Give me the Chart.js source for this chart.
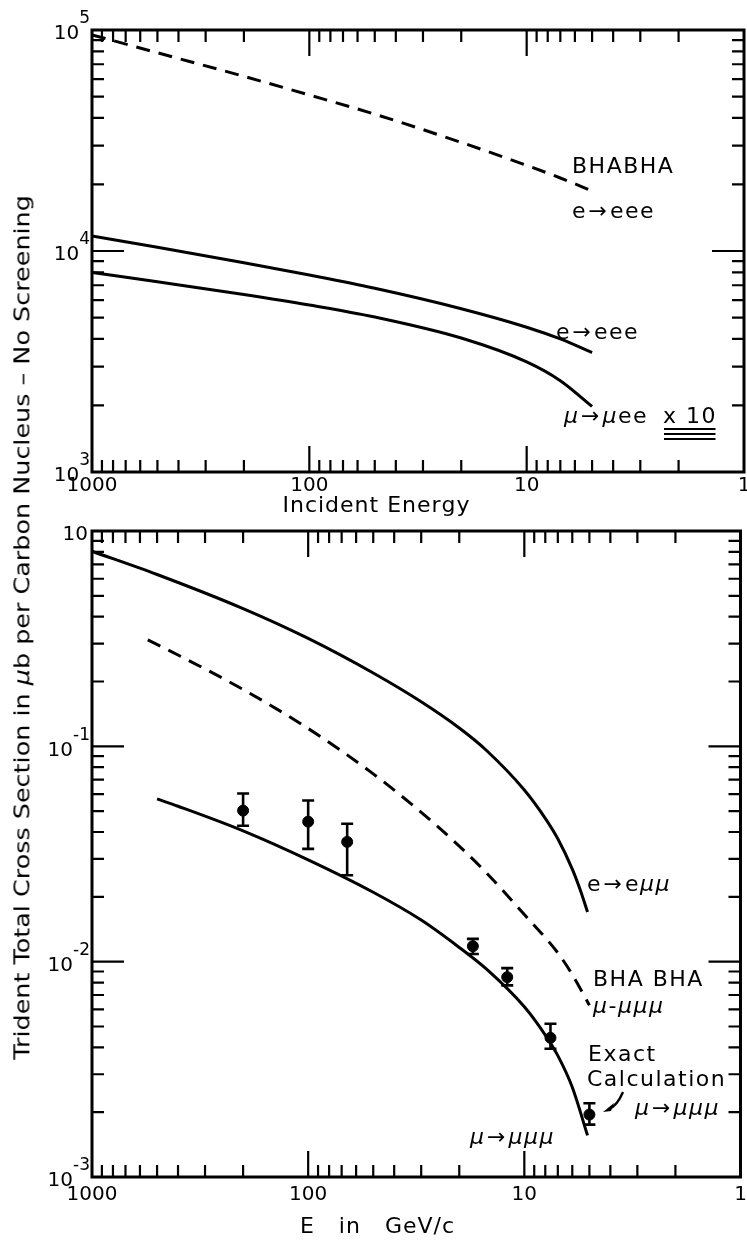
<!DOCTYPE html>
<html><head><meta charset="utf-8">
<script src="https://cdn.jsdelivr.net/npm/chart.js@4.4.1/dist/chart.umd.min.js"></script>
<style>
html,body{margin:0;padding:0;background:#fff;}
#wrap{position:relative;width:747px;height:1240px;overflow:hidden;background:#fff;}
canvas{position:absolute;left:0;}
#c1{top:0;}
#c2{top:520px;}
#ytitle{position:absolute;left:22px;top:627px;white-space:nowrap;font:22px "DejaVu Sans","Liberation Sans",sans-serif;color:#000;transform-origin:50% 50%;}
</style></head>
<body>
<div id="wrap">
<canvas id="c1" width="747" height="520"></canvas>
<canvas id="c2" width="747" height="720"></canvas>
<div id="ytitle">Trident Total Cross Section in <i>μ</i>b per Carbon Nucleus – No Screening</div>
</div>
<script>
// ---------- DATA ----------
// Top panel: Incident Energy (GeV)
const topE = [1000, 500, 200, 100, 50, 20, 10, 7, 5];
const topV_bhabha = [95100, 78900, 61700, 50800, 41600, 31000, 24400, 21400, 18700];
const topV_eeee = [11700, 10400, 8850, 7780, 6780, 5480, 4520, 4000, 3470];
const topV_muee = [8000, 7260, 6360, 5700, 5030, 4040, 3150, 2590, 1980];
// Bottom panel: E in GeV/c
const botE_emumu = [1000, 500, 200, 100, 50, 30, 20, 15, 10, 8, 7, 6, 5.5, 5.1];
const botV_emumu = [0.805, 0.628, 0.436, 0.317, 0.219, 0.161, 0.1216, 0.0959, 0.0627, 0.0463, 0.0372, 0.0269, 0.0214, 0.0170];
const botE_bhabha = [552, 400, 200, 100, 50, 30, 20, 15, 10, 7, 6, 5];
const botV_bhabha = [0.312, 0.2655, 0.1837, 0.121, 0.0745, 0.0494, 0.0344, 0.0259, 0.01656, 0.01099, 0.00871, 0.00628];
const botE_exact = [500, 400, 200, 100, 50, 30, 20, 15, 10, 8, 7, 6, 5.1];
const botV_exact = [0.0570, 0.0527, 0.0405, 0.0297, 0.0210, 0.0156, 0.01164, 0.00925, 0.00617, 0.00456, 0.00366, 0.00261, 0.00156];
const measE = [200, 100, 66, 17.3, 12.0, 7.57, 5.0];
const measV = [0.0503, 0.0447, 0.036, 0.0118, 0.00847, 0.00443, 0.00195];
const measLo = [0.0428, 0.0334, 0.0252, 0.01086, 0.00776, 0.00394, 0.00175];
const measHi = [0.0604, 0.056, 0.0437, 0.01276, 0.00933, 0.00515, 0.0022];
// Tick labels
const xTickValues = [1000, 100, 10, 1];
const xTickLabels = ['1000', '100', '10', '1'];
const topYTickValues = [1e5, 1e4, 1e3];
const topYTickBases = ['10', '10', '10'];
const topYTickExps = ['5', '4', '3'];
const botYTickValues = [1, 0.1, 0.01, 0.001];
const botYTickBases = ['10', '10', '10', '10'];
const botYTickExps = ['', '-1', '-2', '-3'];

// ---------- helpers ----------
const FONT = '"DejaVu Sans","Liberation Sans",sans-serif';
function pts(E, V) { return E.map((e, i) => ({x: e, y: V[i]})); }
function decadeTicks(lo, hi) {
  const out = [];
  for (let k = Math.round(Math.log10(lo)); k < Math.round(Math.log10(hi)); k++)
    for (let m = 1; m < 10; m++) out.push(m * Math.pow(10, k));
  out.push(hi);
  return out;
}
function isPow10(v) { const l = Math.log10(v); return Math.abs(l - Math.round(l)) < 1e-6; }
function runsOf(text) { return text.match(/μ+|[^μ]+/g); }
function charAdv(ctx, ch, spacing) {
  let w = ctx.measureText(ch).width + spacing;
  if (ch === '→') w += 3;
  return w;
}
function measureRich(ctx, text, size, spacing) {
  let w = 0;
  for (const r of runsOf(text)) {
    ctx.font = (r[0] === 'μ' ? 'oblique ' : '') + size + 'px ' + FONT;
    for (const ch of r) w += charAdv(ctx, ch, spacing);
  }
  return w - spacing;
}
function drawRich(ctx, text, x, y, size, spacing) {
  let cx = x;
  ctx.textBaseline = 'middle';
  ctx.textAlign = 'left';
  for (const r of runsOf(text)) {
    ctx.font = (r[0] === 'μ' ? 'oblique ' : '') + size + 'px ' + FONT;
    for (const ch of r) {
      ctx.fillText(ch, cx + (ch === '→' ? 1.5 : 0), y);
      cx += charAdv(ctx, ch, spacing);
    }
  }
  return cx - spacing;
}

const framePlugin = {
  id: 'framePlugin',
  afterDatasetsDraw(chart) {
    const {ctx, chartArea: a} = chart;
    const x = chart.scales.x, y = chart.scales.y;
    const o = chart.options.plugins.framePlugin;
    ctx.save();
    ctx.strokeStyle = '#000';
    ctx.fillStyle = '#000';
    // error bars
    chart.data.datasets.forEach(ds => {
      if (!ds.errLo) return;
      ctx.lineWidth = 2.6;
      ds.data.forEach((p, i) => {
        const px = x.getPixelForValue(p.x);
        const y1 = y.getPixelForValue(ds.errLo[i]);
        const y2 = y.getPixelForValue(ds.errHi[i]);
        ctx.beginPath();
        ctx.moveTo(px, y1); ctx.lineTo(px, y2);
        ctx.moveTo(px - 6, y1); ctx.lineTo(px + 6, y1);
        ctx.moveTo(px - 6, y2); ctx.lineTo(px + 6, y2);
        ctx.stroke();
      });
    });
    // frame
    ctx.lineWidth = 3;
    ctx.strokeRect(a.left, a.top, a.right - a.left, a.bottom - a.top);
    // ticks
    ctx.lineWidth = 2.2;
    ctx.beginPath();
    x.ticks.forEach(t => {
      if (t.value <= x.min || t.value >= x.max) return;
      const px = x.getPixelForValue(t.value);
      const len = isPow10(t.value) ? o.xMajor : o.xMinor;
      ctx.moveTo(px, a.top); ctx.lineTo(px, a.top + len);
      ctx.moveTo(px, a.bottom); ctx.lineTo(px, a.bottom - len);
    });
    y.ticks.forEach(t => {
      if (t.value <= y.min || t.value >= y.max) return;
      const py = y.getPixelForValue(t.value);
      const len = isPow10(t.value) ? o.yMajor : o.yMinor;
      ctx.moveTo(a.left, py); ctx.lineTo(a.left + len, py);
      ctx.moveTo(a.right, py); ctx.lineTo(a.right - len, py);
    });
    ctx.stroke();
    // x tick labels
    ctx.font = o.tickSize + 'px ' + FONT;
    ctx.textAlign = 'center';
    ctx.textBaseline = 'top';
    o.xVals.forEach((v, i) => {
      ctx.fillText(o.xLabels[i], x.getPixelForValue(v), a.bottom + o.xLabelDy);
    });
    // y tick labels: base + exponent
    o.yVals.forEach((v, i) => {
      const py = y.getPixelForValue(v);
      ctx.font = o.expSize + 'px ' + FONT;
      const ew = o.yExps[i] ? ctx.measureText(o.yExps[i]).width : 0;
      ctx.textAlign = 'right';
      ctx.textBaseline = 'middle';
      let right = a.left - 2;
      if (o.yExps[i]) {
        ctx.fillText(o.yExps[i], right, py - 11);
        right -= ew;
      } else right -= 2;
      ctx.font = o.tickSize + 'px ' + FONT;
      ctx.fillText(o.yBases[i], right, py + 4);
    });
    // axis title (letter spaced, centred)
    const tw = measureRich(ctx, o.title, o.titleSize, 1);
    drawRich(ctx, o.title, o.titleX - tw / 2, a.bottom + o.titleDy, o.titleSize, 1);
    // annotations
    o.notes.forEach(n => {
      const end = drawRich(ctx, n.t, n.x, n.y - o.offset, o.noteSize, o.spacing);
      if (n.under) {
        ctx.lineWidth = 2;
        ctx.beginPath();
        n.under.forEach(u => { ctx.moveTo(n.x + 1, u - o.offset); ctx.lineTo(end, u - o.offset); });
        ctx.stroke();
      }
    });
    if (o.arrow) {
      const [x1, y1, x2, y2] = o.arrow;
      ctx.lineWidth = 2.4;
      ctx.beginPath();
      ctx.moveTo(x1, y1 - o.offset);
      ctx.quadraticCurveTo(x1 - 6, y2 - 6 - o.offset, x2 + 6, y2 - 3 - o.offset);
      ctx.stroke();
      ctx.beginPath();
      ctx.moveTo(x2, y2 - o.offset);
      ctx.lineTo(x2 + 11, y2 - 9 - o.offset);
      ctx.lineTo(x2 + 8, y2 - 1 - o.offset);
      ctx.closePath();
      ctx.fill();
    }
    ctx.restore();
  }
};

function lineDs(E, V, dashed) {
  return {
    type: 'line', data: pts(E, V), borderColor: '#000', borderWidth: 3,
    borderDash: dashed ? [14, 9] : [], pointRadius: 0, fill: false,
    cubicInterpolationMode: 'monotone', borderCapStyle: 'butt'
  };
}

function makeChart(id, cfg) {
  const xTicks = decadeTicks(1, 1000);
  const yTicks = decadeTicks(cfg.ymin, cfg.ymax);
  return new Chart(document.getElementById(id), {
    type: 'line',
    data: {datasets: cfg.datasets},
    plugins: [framePlugin],
    options: {
      responsive: false, animation: false, devicePixelRatio: 1,
      layout: {padding: {top: cfg.padTop, right: 3, left: 0, bottom: 0}},
      plugins: {
        legend: {display: false}, tooltip: {enabled: false},
        framePlugin: Object.assign({
          xMajor: 26, xMinor: 12, yMajor: 32, yMinor: 12,
          tickSize: 20, expSize: 17, noteSize: 22, spacing: 1.5, titleSize: 22,
          xVals: xTickValues, xLabels: xTickLabels
        }, cfg.frame)
      },
      scales: {
        x: {
          type: 'logarithmic', reverse: true, min: 1, max: 1000,
          ticks: {display: false}, grid: {display: false}, border: {display: false},
          afterBuildTicks: s => { s.ticks = xTicks.map(v => ({value: v})); },
          afterFit: s => { s.height = cfg.xH; }
        },
        y: {
          type: 'logarithmic', min: cfg.ymin, max: cfg.ymax,
          ticks: {display: false}, grid: {display: false}, border: {display: false},
          afterBuildTicks: s => { s.ticks = yTicks.map(v => ({value: v})); },
          afterFit: s => { s.width = 92; }
        }
      }
    }
  });
}

makeChart('c1', {
  ymin: 1e3, ymax: 1e5, padTop: 30, xH: 48,
  datasets: [
    lineDs(topE, topV_bhabha, true),
    lineDs(topE, topV_eeee, false),
    lineDs(topE, topV_muee, false)
  ],
  frame: {
    yVals: topYTickValues, yBases: topYTickBases, yExps: topYTickExps,
    xLabelDy: 4, title: 'Incident Energy', titleX: 376, titleDy: 34, offset: 0,
    notes: [
      {t: 'BHABHA', x: 572, y: 167},
      {t: 'e→eee', x: 572, y: 212},
      {t: 'e→eee', x: 556, y: 333},
      {t: 'μ→μee', x: 564, y: 417},
      {t: 'x 10', x: 663, y: 417, under: [429, 434, 439]}
    ]
  }
});

makeChart('c2', {
  ymin: 1e-3, ymax: 1, padTop: 11, xH: 63,
  datasets: [
    lineDs(botE_emumu, botV_emumu, false),
    lineDs(botE_bhabha, botV_bhabha, true),
    lineDs(botE_exact, botV_exact, false),
    {type: 'scatter', data: pts(measE, measV), errLo: measLo, errHi: measHi,
     pointRadius: 5.5, pointBackgroundColor: '#000', pointBorderColor: '#000', showLine: false}
  ],
  frame: {
    yVals: botYTickValues, yBases: botYTickBases, yExps: botYTickExps,
    xLabelDy: 8, title: 'E   in   GeV/c', titleX: 377, titleDy: 50, offset: 520,
    notes: [
      {t: 'e→eμμ', x: 587, y: 885},
      {t: 'BHA BHA', x: 593, y: 980},
      {t: 'μ-μμμ', x: 593, y: 1007},
      {t: 'Exact', x: 588, y: 1055},
      {t: 'Calculation', x: 587, y: 1080},
      {t: 'μ→μμμ', x: 635, y: 1109},
      {t: 'μ→μμμ', x: 470, y: 1138}
    ],
    arrow: [623, 1092, 603, 1112]
  }
});

// y-axis title spanning both panels
(function () {
  const el = document.getElementById('ytitle');
  const w = el.offsetWidth, h = el.offsetHeight;
  const target = 865;
  el.style.left = (22 - w / 2) + 'px';
  el.style.top = (627 - h / 2) + 'px';
  el.style.transform = 'rotate(-90deg) scaleX(' + (target / w) + ')';
})();
</script>
</body></html>
